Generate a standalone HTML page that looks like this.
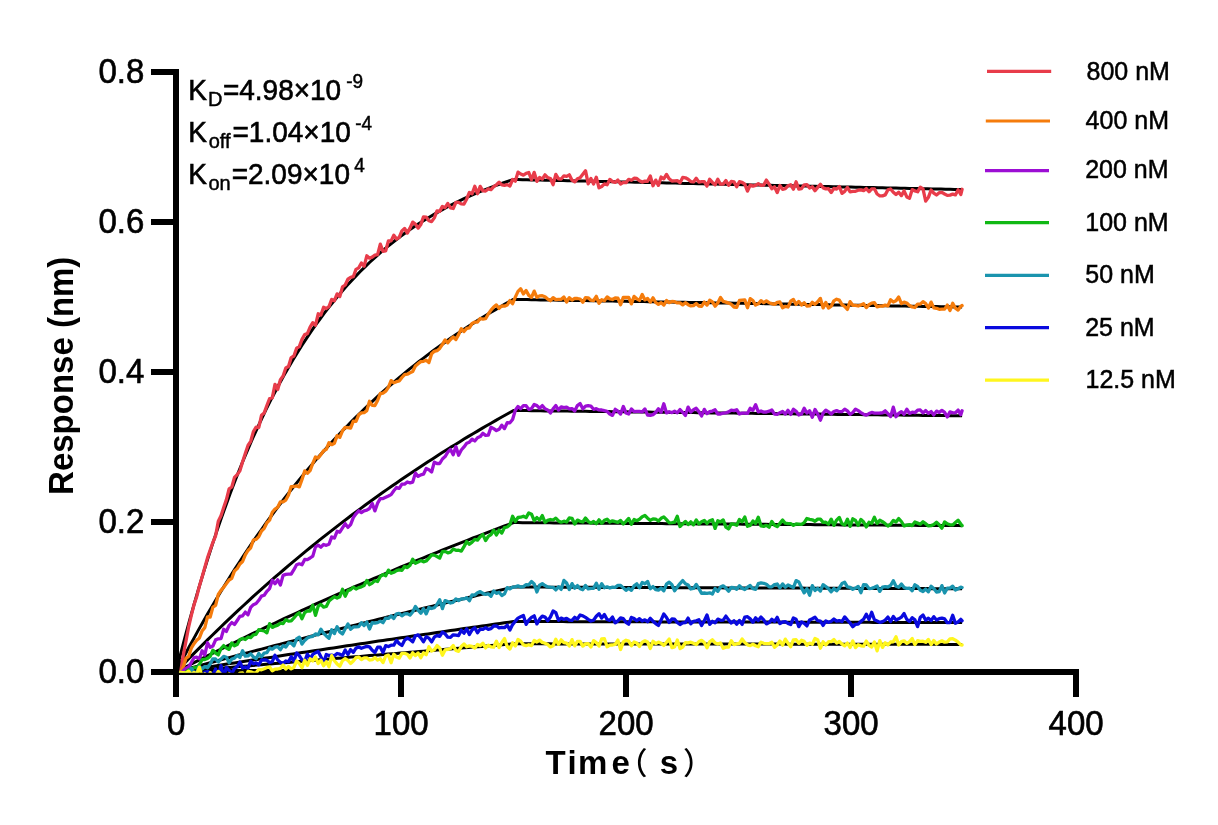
<!DOCTYPE html>
<html lang="en"><head><meta charset="utf-8"><title>Sensorgram</title>
<style>
html,body{margin:0;padding:0;background:#fff;}
body{width:1218px;height:825px;overflow:hidden;}
svg{display:block;}
text{font-family:"Liberation Sans","Noto Sans CJK SC",sans-serif;fill:#000;}
.tick{font-size:33px;stroke:#000;stroke-width:.6px;}
.ttl{font-size:33px;font-weight:bold;}
.ann{font-size:28px;stroke:#000;stroke-width:.6px;}
.sb{font-size:20px;stroke-width:.45px;}
.sp{font-size:19px;stroke-width:.45px;}
.lg{font-size:25px;stroke:#000;stroke-width:.5px;}
.cjk{font-family:"Liberation Sans","Noto Sans CJK SC",sans-serif;font-weight:500;font-size:30px;}
</style></head><body>
<svg width="1218" height="825" viewBox="0 0 1218 825">
<rect x="0" y="0" width="1218" height="825" fill="#ffffff"/>
<g fill="#000" stroke="none">
<rect x="173" y="69" width="6" height="628"/>
<rect x="151" y="669" width="928" height="6"/>
<rect x="151" y="519" width="25" height="6"/>
<rect x="151" y="369" width="25" height="6"/>
<rect x="151" y="219" width="25" height="6"/>
<rect x="151" y="69" width="25" height="6"/>
<rect x="398" y="672" width="6" height="25"/>
<rect x="623" y="672" width="6" height="25"/>
<rect x="848" y="672" width="6" height="25"/>
<rect x="1073" y="672" width="6" height="25"/>
</g>
<clipPath id="plot"><rect x="178.8" y="40" width="830" height="632.7"/></clipPath>
<g clip-path="url(#plot)">
<g fill="none" stroke="#000" stroke-width="3" stroke-linejoin="round" stroke-linecap="butt">
<path d="M176.0,672.0 L180.5,654.3 L185.0,637.2 L189.5,620.6 L194.0,604.6 L198.5,589.1 L203.0,574.1 L207.5,559.6 L212.0,545.6 L216.5,532.1 L221.0,519.0 L225.5,506.4 L230.0,494.1 L234.5,482.3 L239.0,470.8 L243.5,459.8 L248.0,449.1 L252.5,438.7 L257.0,428.8 L261.5,419.1 L266.0,409.7 L270.5,400.7 L275.0,392.0 L279.5,383.5 L284.0,375.3 L288.5,367.4 L293.0,359.8 L297.5,352.4 L302.0,345.3 L306.5,338.4 L311.0,331.7 L315.5,325.2 L320.0,319.0 L324.5,312.9 L329.0,307.1 L333.5,301.5 L338.0,296.0 L342.5,290.7 L347.0,285.6 L351.5,280.7 L356.0,275.9 L360.5,271.3 L365.0,266.9 L369.5,262.5 L374.0,258.4 L378.5,254.3 L383.0,250.4 L387.5,246.7 L392.0,243.0 L396.5,239.5 L401.0,236.1 L405.5,232.8 L410.0,229.6 L414.5,226.5 L419.0,223.6 L423.5,220.7 L428.0,217.9 L432.5,215.2 L437.0,212.6 L441.5,210.1 L446.0,207.7 L450.5,205.3 L455.0,203.0 L459.5,200.8 L464.0,198.7 L468.5,196.6 L473.0,194.7 L477.5,192.7 L482.0,190.9 L486.5,189.1 L491.0,187.3 L495.5,185.7 L500.0,184.0 L504.5,182.5 L509.0,180.9 L513.5,179.5 L518.0,179.6 L522.5,179.7 L527.0,179.8 L531.5,179.9 L536.0,180.0 L540.5,180.1 L545.0,180.2 L549.5,180.3 L554.0,180.4 L558.5,180.5 L563.0,180.6 L567.5,180.7 L572.0,180.8 L576.5,180.9 L581.0,181.0 L585.5,181.1 L590.0,181.2 L594.5,181.3 L599.0,181.4 L603.5,181.5 L608.0,181.6 L612.5,181.7 L617.0,181.8 L621.5,181.9 L626.0,182.0 L630.5,182.1 L635.0,182.2 L639.5,182.3 L644.0,182.4 L648.5,182.5 L653.0,182.6 L657.5,182.7 L662.0,182.8 L666.5,182.9 L671.0,183.0 L675.5,183.1 L680.0,183.3 L684.5,183.4 L689.0,183.5 L693.5,183.6 L698.0,183.7 L702.5,183.8 L707.0,183.9 L711.5,184.0 L716.0,184.1 L720.5,184.2 L725.0,184.3 L729.5,184.4 L734.0,184.5 L738.5,184.6 L743.0,184.7 L747.5,184.8 L752.0,184.9 L756.5,185.0 L761.0,185.1 L765.5,185.2 L770.0,185.3 L774.5,185.4 L779.0,185.5 L783.5,185.6 L788.0,185.7 L792.5,185.8 L797.0,185.9 L801.5,186.0 L806.0,186.1 L810.5,186.2 L815.0,186.3 L819.5,186.4 L824.0,186.5 L828.5,186.6 L833.0,186.7 L837.5,186.8 L842.0,186.9 L846.5,187.0 L851.0,187.1 L855.5,187.2 L860.0,187.3 L864.5,187.4 L869.0,187.5 L873.5,187.6 L878.0,187.7 L882.5,187.8 L887.0,187.9 L891.5,188.0 L896.0,188.1 L900.5,188.2 L905.0,188.3 L909.5,188.4 L914.0,188.5 L918.5,188.6 L923.0,188.7 L927.5,188.8 L932.0,188.9 L936.5,189.0 L941.0,189.1 L945.5,189.2 L950.0,189.3 L954.5,189.4 L959.0,189.5 L962.1,189.6"/>
<path d="M176.0,672.0 L180.5,663.3 L185.0,654.8 L189.5,646.3 L194.0,638.1 L198.5,629.9 L203.0,622.0 L207.5,614.1 L212.0,606.4 L216.5,598.8 L221.0,591.3 L225.5,584.0 L230.0,576.7 L234.5,569.6 L239.0,562.7 L243.5,555.8 L248.0,549.1 L252.5,542.4 L257.0,535.9 L261.5,529.5 L266.0,523.2 L270.5,517.0 L275.0,510.9 L279.5,504.9 L284.0,499.0 L288.5,493.2 L293.0,487.5 L297.5,481.9 L302.0,476.4 L306.5,471.0 L311.0,465.7 L315.5,460.4 L320.0,455.3 L324.5,450.2 L329.0,445.2 L333.5,440.4 L338.0,435.5 L342.5,430.8 L347.0,426.2 L351.5,421.6 L356.0,417.1 L360.5,412.7 L365.0,408.3 L369.5,404.1 L374.0,399.9 L378.5,395.7 L383.0,391.7 L387.5,387.7 L392.0,383.8 L396.5,379.9 L401.0,376.1 L405.5,372.4 L410.0,368.7 L414.5,365.1 L419.0,361.5 L423.5,358.1 L428.0,354.6 L432.5,351.3 L437.0,347.9 L441.5,344.7 L446.0,341.5 L450.5,338.3 L455.0,335.2 L459.5,332.2 L464.0,329.2 L468.5,326.3 L473.0,323.4 L477.5,320.5 L482.0,317.7 L486.5,315.0 L491.0,312.3 L495.5,309.6 L500.0,307.0 L504.5,304.4 L509.0,301.9 L513.5,299.4 L518.0,299.5 L522.5,299.6 L527.0,299.6 L531.5,299.7 L536.0,299.8 L540.5,299.9 L545.0,299.9 L549.5,300.0 L554.0,300.1 L558.5,300.2 L563.0,300.3 L567.5,300.3 L572.0,300.4 L576.5,300.5 L581.0,300.6 L585.5,300.6 L590.0,300.7 L594.5,300.8 L599.0,300.9 L603.5,300.9 L608.0,301.0 L612.5,301.1 L617.0,301.2 L621.5,301.3 L626.0,301.3 L630.5,301.4 L635.0,301.5 L639.5,301.6 L644.0,301.6 L648.5,301.7 L653.0,301.8 L657.5,301.9 L662.0,301.9 L666.5,302.0 L671.0,302.1 L675.5,302.2 L680.0,302.3 L684.5,302.3 L689.0,302.4 L693.5,302.5 L698.0,302.6 L702.5,302.6 L707.0,302.7 L711.5,302.8 L716.0,302.9 L720.5,302.9 L725.0,303.0 L729.5,303.1 L734.0,303.2 L738.5,303.3 L743.0,303.3 L747.5,303.4 L752.0,303.5 L756.5,303.6 L761.0,303.6 L765.5,303.7 L770.0,303.8 L774.5,303.9 L779.0,303.9 L783.5,304.0 L788.0,304.1 L792.5,304.2 L797.0,304.3 L801.5,304.3 L806.0,304.4 L810.5,304.5 L815.0,304.6 L819.5,304.6 L824.0,304.7 L828.5,304.8 L833.0,304.9 L837.5,304.9 L842.0,305.0 L846.5,305.1 L851.0,305.2 L855.5,305.2 L860.0,305.3 L864.5,305.4 L869.0,305.5 L873.5,305.5 L878.0,305.6 L882.5,305.7 L887.0,305.8 L891.5,305.9 L896.0,305.9 L900.5,306.0 L905.0,306.1 L909.5,306.2 L914.0,306.2 L918.5,306.3 L923.0,306.4 L927.5,306.5 L932.0,306.5 L936.5,306.6 L941.0,306.7 L945.5,306.8 L950.0,306.8 L954.5,306.9 L959.0,307.0 L962.1,307.0"/>
<path d="M176.0,672.0 L180.5,667.3 L185.0,662.6 L189.5,658.0 L194.0,653.4 L198.5,648.9 L203.0,644.4 L207.5,639.9 L212.0,635.5 L216.5,631.1 L221.0,626.7 L225.5,622.4 L230.0,618.1 L234.5,613.9 L239.0,609.6 L243.5,605.5 L248.0,601.3 L252.5,597.2 L257.0,593.2 L261.5,589.1 L266.0,585.1 L270.5,581.2 L275.0,577.2 L279.5,573.3 L284.0,569.5 L288.5,565.6 L293.0,561.8 L297.5,558.1 L302.0,554.3 L306.5,550.6 L311.0,547.0 L315.5,543.3 L320.0,539.7 L324.5,536.1 L329.0,532.6 L333.5,529.1 L338.0,525.6 L342.5,522.1 L347.0,518.7 L351.5,515.3 L356.0,511.9 L360.5,508.6 L365.0,505.3 L369.5,502.0 L374.0,498.7 L378.5,495.5 L383.0,492.3 L387.5,489.1 L392.0,486.0 L396.5,482.9 L401.0,479.8 L405.5,476.7 L410.0,473.7 L414.5,470.7 L419.0,467.7 L423.5,464.7 L428.0,461.8 L432.5,458.9 L437.0,456.0 L441.5,453.1 L446.0,450.3 L450.5,447.4 L455.0,444.7 L459.5,441.9 L464.0,439.1 L468.5,436.4 L473.0,433.7 L477.5,431.1 L482.0,428.4 L486.5,425.8 L491.0,423.2 L495.5,420.6 L500.0,418.0 L504.5,415.5 L509.0,413.0 L513.5,410.5 L518.0,410.5 L522.5,410.6 L527.0,410.6 L531.5,410.7 L536.0,410.7 L540.5,410.8 L545.0,410.9 L549.5,410.9 L554.0,411.0 L558.5,411.0 L563.0,411.1 L567.5,411.1 L572.0,411.2 L576.5,411.2 L581.0,411.3 L585.5,411.3 L590.0,411.4 L594.5,411.5 L599.0,411.5 L603.5,411.6 L608.0,411.6 L612.5,411.7 L617.0,411.7 L621.5,411.8 L626.0,411.8 L630.5,411.9 L635.0,411.9 L639.5,412.0 L644.0,412.0 L648.5,412.1 L653.0,412.2 L657.5,412.2 L662.0,412.3 L666.5,412.3 L671.0,412.4 L675.5,412.4 L680.0,412.5 L684.5,412.5 L689.0,412.6 L693.5,412.6 L698.0,412.7 L702.5,412.7 L707.0,412.8 L711.5,412.9 L716.0,412.9 L720.5,413.0 L725.0,413.0 L729.5,413.1 L734.0,413.1 L738.5,413.2 L743.0,413.2 L747.5,413.3 L752.0,413.3 L756.5,413.4 L761.0,413.4 L765.5,413.5 L770.0,413.6 L774.5,413.6 L779.0,413.7 L783.5,413.7 L788.0,413.8 L792.5,413.8 L797.0,413.9 L801.5,413.9 L806.0,414.0 L810.5,414.0 L815.0,414.1 L819.5,414.1 L824.0,414.2 L828.5,414.3 L833.0,414.3 L837.5,414.4 L842.0,414.4 L846.5,414.5 L851.0,414.5 L855.5,414.6 L860.0,414.6 L864.5,414.7 L869.0,414.7 L873.5,414.8 L878.0,414.8 L882.5,414.9 L887.0,415.0 L891.5,415.0 L896.0,415.1 L900.5,415.1 L905.0,415.2 L909.5,415.2 L914.0,415.3 L918.5,415.3 L923.0,415.4 L927.5,415.4 L932.0,415.5 L936.5,415.5 L941.0,415.6 L945.5,415.6 L950.0,415.7 L954.5,415.8 L959.0,415.8 L962.1,415.8"/>
<path d="M176.0,672.0 L180.5,669.7 L185.0,667.3 L189.5,665.0 L194.0,662.7 L198.5,660.4 L203.0,658.2 L207.5,655.9 L212.0,653.6 L216.5,651.4 L221.0,649.1 L225.5,646.9 L230.0,644.7 L234.5,642.5 L239.0,640.3 L243.5,638.1 L248.0,635.9 L252.5,633.7 L257.0,631.5 L261.5,629.4 L266.0,627.2 L270.5,625.1 L275.0,623.0 L279.5,620.9 L284.0,618.7 L288.5,616.6 L293.0,614.6 L297.5,612.5 L302.0,610.4 L306.5,608.3 L311.0,606.3 L315.5,604.2 L320.0,602.2 L324.5,600.2 L329.0,598.2 L333.5,596.2 L338.0,594.2 L342.5,592.2 L347.0,590.2 L351.5,588.2 L356.0,586.2 L360.5,584.3 L365.0,582.3 L369.5,580.4 L374.0,578.5 L378.5,576.5 L383.0,574.6 L387.5,572.7 L392.0,570.8 L396.5,568.9 L401.0,567.0 L405.5,565.2 L410.0,563.3 L414.5,561.5 L419.0,559.6 L423.5,557.8 L428.0,555.9 L432.5,554.1 L437.0,552.3 L441.5,550.5 L446.0,548.7 L450.5,546.9 L455.0,545.1 L459.5,543.3 L464.0,541.6 L468.5,539.8 L473.0,538.0 L477.5,536.3 L482.0,534.6 L486.5,532.8 L491.0,531.1 L495.5,529.4 L500.0,527.7 L504.5,526.0 L509.0,524.3 L513.5,522.6 L518.0,522.6 L522.5,522.7 L527.0,522.7 L531.5,522.7 L536.0,522.8 L540.5,522.8 L545.0,522.8 L549.5,522.8 L554.0,522.9 L558.5,522.9 L563.0,522.9 L567.5,523.0 L572.0,523.0 L576.5,523.0 L581.0,523.1 L585.5,523.1 L590.0,523.1 L594.5,523.2 L599.0,523.2 L603.5,523.2 L608.0,523.3 L612.5,523.3 L617.0,523.3 L621.5,523.3 L626.0,523.4 L630.5,523.4 L635.0,523.4 L639.5,523.5 L644.0,523.5 L648.5,523.5 L653.0,523.6 L657.5,523.6 L662.0,523.6 L666.5,523.7 L671.0,523.7 L675.5,523.7 L680.0,523.7 L684.5,523.8 L689.0,523.8 L693.5,523.8 L698.0,523.9 L702.5,523.9 L707.0,523.9 L711.5,524.0 L716.0,524.0 L720.5,524.0 L725.0,524.1 L729.5,524.1 L734.0,524.1 L738.5,524.1 L743.0,524.2 L747.5,524.2 L752.0,524.2 L756.5,524.3 L761.0,524.3 L765.5,524.3 L770.0,524.4 L774.5,524.4 L779.0,524.4 L783.5,524.5 L788.0,524.5 L792.5,524.5 L797.0,524.5 L801.5,524.6 L806.0,524.6 L810.5,524.6 L815.0,524.7 L819.5,524.7 L824.0,524.7 L828.5,524.8 L833.0,524.8 L837.5,524.8 L842.0,524.9 L846.5,524.9 L851.0,524.9 L855.5,524.9 L860.0,525.0 L864.5,525.0 L869.0,525.0 L873.5,525.1 L878.0,525.1 L882.5,525.1 L887.0,525.2 L891.5,525.2 L896.0,525.2 L900.5,525.2 L905.0,525.3 L909.5,525.3 L914.0,525.3 L918.5,525.4 L923.0,525.4 L927.5,525.4 L932.0,525.5 L936.5,525.5 L941.0,525.5 L945.5,525.6 L950.0,525.6 L954.5,525.6 L959.0,525.6 L962.1,525.7"/>
<path d="M176.0,672.0 L180.5,670.8 L185.0,669.5 L189.5,668.3 L194.0,667.1 L198.5,665.9 L203.0,664.7 L207.5,663.4 L212.0,662.2 L216.5,661.0 L221.0,659.8 L225.5,658.6 L230.0,657.4 L234.5,656.2 L239.0,655.0 L243.5,653.8 L248.0,652.6 L252.5,651.4 L257.0,650.3 L261.5,649.1 L266.0,647.9 L270.5,646.7 L275.0,645.5 L279.5,644.4 L284.0,643.2 L288.5,642.0 L293.0,640.9 L297.5,639.7 L302.0,638.6 L306.5,637.4 L311.0,636.2 L315.5,635.1 L320.0,633.9 L324.5,632.8 L329.0,631.7 L333.5,630.5 L338.0,629.4 L342.5,628.2 L347.0,627.1 L351.5,626.0 L356.0,624.9 L360.5,623.7 L365.0,622.6 L369.5,621.5 L374.0,620.4 L378.5,619.3 L383.0,618.2 L387.5,617.0 L392.0,615.9 L396.5,614.8 L401.0,613.7 L405.5,612.6 L410.0,611.5 L414.5,610.5 L419.0,609.4 L423.5,608.3 L428.0,607.2 L432.5,606.1 L437.0,605.0 L441.5,603.9 L446.0,602.9 L450.5,601.8 L455.0,600.7 L459.5,599.7 L464.0,598.6 L468.5,597.5 L473.0,596.5 L477.5,595.4 L482.0,594.4 L486.5,593.3 L491.0,592.2 L495.5,591.2 L500.0,590.2 L504.5,589.1 L509.0,588.1 L513.5,587.0 L518.0,587.0 L522.5,587.1 L527.0,587.1 L531.5,587.1 L536.0,587.1 L540.5,587.1 L545.0,587.1 L549.5,587.2 L554.0,587.2 L558.5,587.2 L563.0,587.2 L567.5,587.2 L572.0,587.3 L576.5,587.3 L581.0,587.3 L585.5,587.3 L590.0,587.3 L594.5,587.3 L599.0,587.4 L603.5,587.4 L608.0,587.4 L612.5,587.4 L617.0,587.4 L621.5,587.4 L626.0,587.5 L630.5,587.5 L635.0,587.5 L639.5,587.5 L644.0,587.5 L648.5,587.6 L653.0,587.6 L657.5,587.6 L662.0,587.6 L666.5,587.6 L671.0,587.6 L675.5,587.7 L680.0,587.7 L684.5,587.7 L689.0,587.7 L693.5,587.7 L698.0,587.7 L702.5,587.8 L707.0,587.8 L711.5,587.8 L716.0,587.8 L720.5,587.8 L725.0,587.9 L729.5,587.9 L734.0,587.9 L738.5,587.9 L743.0,587.9 L747.5,587.9 L752.0,588.0 L756.5,588.0 L761.0,588.0 L765.5,588.0 L770.0,588.0 L774.5,588.0 L779.0,588.1 L783.5,588.1 L788.0,588.1 L792.5,588.1 L797.0,588.1 L801.5,588.1 L806.0,588.2 L810.5,588.2 L815.0,588.2 L819.5,588.2 L824.0,588.2 L828.5,588.3 L833.0,588.3 L837.5,588.3 L842.0,588.3 L846.5,588.3 L851.0,588.3 L855.5,588.4 L860.0,588.4 L864.5,588.4 L869.0,588.4 L873.5,588.4 L878.0,588.4 L882.5,588.5 L887.0,588.5 L891.5,588.5 L896.0,588.5 L900.5,588.5 L905.0,588.5 L909.5,588.6 L914.0,588.6 L918.5,588.6 L923.0,588.6 L927.5,588.6 L932.0,588.7 L936.5,588.7 L941.0,588.7 L945.5,588.7 L950.0,588.7 L954.5,588.7 L959.0,588.8 L962.1,588.8"/>
<path d="M176.0,672.0 L180.5,671.3 L185.0,670.6 L189.5,669.9 L194.0,669.2 L198.5,668.5 L203.0,667.8 L207.5,667.1 L212.0,666.4 L216.5,665.7 L221.0,665.0 L225.5,664.3 L230.0,663.6 L234.5,662.9 L239.0,662.2 L243.5,661.5 L248.0,660.8 L252.5,660.1 L257.0,659.4 L261.5,658.8 L266.0,658.1 L270.5,657.4 L275.0,656.7 L279.5,656.0 L284.0,655.3 L288.5,654.6 L293.0,654.0 L297.5,653.3 L302.0,652.6 L306.5,651.9 L311.0,651.2 L315.5,650.6 L320.0,649.9 L324.5,649.2 L329.0,648.5 L333.5,647.9 L338.0,647.2 L342.5,646.5 L347.0,645.8 L351.5,645.2 L356.0,644.5 L360.5,643.8 L365.0,643.2 L369.5,642.5 L374.0,641.8 L378.5,641.1 L383.0,640.5 L387.5,639.8 L392.0,639.2 L396.5,638.5 L401.0,637.8 L405.5,637.2 L410.0,636.5 L414.5,635.8 L419.0,635.2 L423.5,634.5 L428.0,633.9 L432.5,633.2 L437.0,632.6 L441.5,631.9 L446.0,631.2 L450.5,630.6 L455.0,629.9 L459.5,629.3 L464.0,628.6 L468.5,628.0 L473.0,627.3 L477.5,626.7 L482.0,626.0 L486.5,625.4 L491.0,624.7 L495.5,624.1 L500.0,623.5 L504.5,622.8 L509.0,622.2 L513.5,621.5 L518.0,621.5 L522.5,621.5 L527.0,621.6 L531.5,621.6 L536.0,621.6 L540.5,621.6 L545.0,621.6 L549.5,621.6 L554.0,621.6 L558.5,621.6 L563.0,621.6 L567.5,621.7 L572.0,621.7 L576.5,621.7 L581.0,621.7 L585.5,621.7 L590.0,621.7 L594.5,621.7 L599.0,621.7 L603.5,621.7 L608.0,621.7 L612.5,621.8 L617.0,621.8 L621.5,621.8 L626.0,621.8 L630.5,621.8 L635.0,621.8 L639.5,621.8 L644.0,621.8 L648.5,621.8 L653.0,621.8 L657.5,621.9 L662.0,621.9 L666.5,621.9 L671.0,621.9 L675.5,621.9 L680.0,621.9 L684.5,621.9 L689.0,621.9 L693.5,621.9 L698.0,622.0 L702.5,622.0 L707.0,622.0 L711.5,622.0 L716.0,622.0 L720.5,622.0 L725.0,622.0 L729.5,622.0 L734.0,622.0 L738.5,622.0 L743.0,622.1 L747.5,622.1 L752.0,622.1 L756.5,622.1 L761.0,622.1 L765.5,622.1 L770.0,622.1 L774.5,622.1 L779.0,622.1 L783.5,622.2 L788.0,622.2 L792.5,622.2 L797.0,622.2 L801.5,622.2 L806.0,622.2 L810.5,622.2 L815.0,622.2 L819.5,622.2 L824.0,622.2 L828.5,622.3 L833.0,622.3 L837.5,622.3 L842.0,622.3 L846.5,622.3 L851.0,622.3 L855.5,622.3 L860.0,622.3 L864.5,622.3 L869.0,622.3 L873.5,622.4 L878.0,622.4 L882.5,622.4 L887.0,622.4 L891.5,622.4 L896.0,622.4 L900.5,622.4 L905.0,622.4 L909.5,622.4 L914.0,622.5 L918.5,622.5 L923.0,622.5 L927.5,622.5 L932.0,622.5 L936.5,622.5 L941.0,622.5 L945.5,622.5 L950.0,622.5 L954.5,622.5 L959.0,622.6 L962.1,622.6"/>
<path d="M176.0,672.0 L180.5,671.6 L185.0,671.2 L189.5,670.8 L194.0,670.5 L198.5,670.1 L203.0,669.7 L207.5,669.3 L212.0,668.9 L216.5,668.5 L221.0,668.2 L225.5,667.8 L230.0,667.4 L234.5,667.0 L239.0,666.6 L243.5,666.2 L248.0,665.9 L252.5,665.5 L257.0,665.1 L261.5,664.7 L266.0,664.3 L270.5,663.9 L275.0,663.6 L279.5,663.2 L284.0,662.8 L288.5,662.4 L293.0,662.0 L297.5,661.7 L302.0,661.3 L306.5,660.9 L311.0,660.5 L315.5,660.2 L320.0,659.8 L324.5,659.4 L329.0,659.0 L333.5,658.6 L338.0,658.3 L342.5,657.9 L347.0,657.5 L351.5,657.1 L356.0,656.8 L360.5,656.4 L365.0,656.0 L369.5,655.6 L374.0,655.3 L378.5,654.9 L383.0,654.5 L387.5,654.1 L392.0,653.8 L396.5,653.4 L401.0,653.0 L405.5,652.7 L410.0,652.3 L414.5,651.9 L419.0,651.5 L423.5,651.2 L428.0,650.8 L432.5,650.4 L437.0,650.1 L441.5,649.7 L446.0,649.3 L450.5,648.9 L455.0,648.6 L459.5,648.2 L464.0,647.8 L468.5,647.5 L473.0,647.1 L477.5,646.7 L482.0,646.4 L486.5,646.0 L491.0,645.6 L495.5,645.3 L500.0,644.9 L504.5,644.5 L509.0,644.2 L513.5,643.8 L518.0,643.8 L522.5,643.8 L527.0,643.8 L531.5,643.8 L536.0,643.8 L540.5,643.8 L545.0,643.8 L549.5,643.8 L554.0,643.9 L558.5,643.9 L563.0,643.9 L567.5,643.9 L572.0,643.9 L576.5,643.9 L581.0,643.9 L585.5,643.9 L590.0,643.9 L594.5,643.9 L599.0,643.9 L603.5,643.9 L608.0,643.9 L612.5,643.9 L617.0,643.9 L621.5,643.9 L626.0,643.9 L630.5,644.0 L635.0,644.0 L639.5,644.0 L644.0,644.0 L648.5,644.0 L653.0,644.0 L657.5,644.0 L662.0,644.0 L666.5,644.0 L671.0,644.0 L675.5,644.0 L680.0,644.0 L684.5,644.0 L689.0,644.0 L693.5,644.0 L698.0,644.0 L702.5,644.0 L707.0,644.1 L711.5,644.1 L716.0,644.1 L720.5,644.1 L725.0,644.1 L729.5,644.1 L734.0,644.1 L738.5,644.1 L743.0,644.1 L747.5,644.1 L752.0,644.1 L756.5,644.1 L761.0,644.1 L765.5,644.1 L770.0,644.1 L774.5,644.1 L779.0,644.1 L783.5,644.1 L788.0,644.2 L792.5,644.2 L797.0,644.2 L801.5,644.2 L806.0,644.2 L810.5,644.2 L815.0,644.2 L819.5,644.2 L824.0,644.2 L828.5,644.2 L833.0,644.2 L837.5,644.2 L842.0,644.2 L846.5,644.2 L851.0,644.2 L855.5,644.2 L860.0,644.2 L864.5,644.3 L869.0,644.3 L873.5,644.3 L878.0,644.3 L882.5,644.3 L887.0,644.3 L891.5,644.3 L896.0,644.3 L900.5,644.3 L905.0,644.3 L909.5,644.3 L914.0,644.3 L918.5,644.3 L923.0,644.3 L927.5,644.3 L932.0,644.3 L936.5,644.3 L941.0,644.4 L945.5,644.4 L950.0,644.4 L954.5,644.4 L959.0,644.4 L962.1,644.4"/>
</g>
<g fill="none" stroke-width="3.3" stroke-linejoin="round" stroke-linecap="round">
<path stroke="#E83C4A" d="M180.5,673.3 L183.2,655.8 L185.9,641.5 L188.6,627.2 L191.3,615.5 L194.0,604.8 L196.7,596.7 L199.4,586.1 L202.1,577.0 L204.8,567.5 L207.5,557.9 L210.2,550.0 L212.9,542.3 L215.6,535.8 L218.3,521.2 L221.0,515.8 L223.7,507.5 L226.4,499.6 L229.1,488.9 L231.8,487.0 L234.5,477.4 L237.2,474.6 L239.9,470.9 L242.6,461.7 L245.3,453.4 L248.0,445.5 L250.7,441.3 L253.4,431.6 L256.1,427.2 L258.8,427.5 L261.5,415.3 L264.2,412.9 L266.9,405.5 L269.6,398.5 L272.3,397.9 L275.0,384.3 L277.7,389.5 L280.4,379.7 L283.1,376.1 L285.8,368.0 L288.5,366.5 L291.2,357.6 L293.9,356.0 L296.6,348.2 L299.3,346.6 L302.0,339.4 L304.7,334.6 L307.4,333.6 L310.1,327.2 L312.8,322.7 L315.5,325.2 L318.2,313.8 L320.9,315.0 L323.6,307.2 L326.3,308.5 L329.0,306.5 L331.7,299.4 L334.4,300.7 L337.1,293.9 L339.8,296.5 L342.5,286.9 L345.2,285.0 L347.9,279.2 L350.6,277.4 L353.3,276.7 L356.0,269.4 L358.7,267.9 L361.4,263.0 L364.1,266.3 L366.8,255.8 L369.5,258.2 L372.2,257.1 L374.9,255.2 L377.6,254.6 L380.3,244.2 L383.0,251.3 L385.7,250.8 L388.4,240.9 L391.1,240.9 L393.8,235.3 L396.5,239.0 L399.2,237.4 L401.9,230.9 L404.6,228.4 L407.3,233.1 L410.0,228.1 L412.7,222.1 L415.4,224.1 L418.1,228.2 L420.8,224.6 L423.5,216.8 L426.2,217.1 L428.9,220.7 L431.6,221.6 L434.3,217.9 L437.0,210.8 L439.7,211.4 L442.4,206.4 L445.1,207.7 L447.8,203.5 L450.5,207.9 L453.2,208.5 L455.9,202.3 L458.6,202.3 L461.3,203.9 L464.0,204.1 L466.7,198.9 L469.4,192.5 L472.1,193.8 L474.8,186.3 L477.5,193.8 L480.2,186.4 L482.9,190.8 L485.6,191.0 L488.3,188.9 L491.0,189.7 L493.7,186.6 L496.4,184.8 L499.1,182.3 L501.8,184.9 L504.5,185.3 L507.2,184.6 L509.9,186.0 L512.6,179.5 L515.3,181.2 L518.0,172.1 L520.7,174.0 L523.4,175.1 L526.1,173.3 L528.8,172.5 L531.5,179.8 L534.2,172.4 L536.9,181.3 L539.6,177.5 L542.3,179.1 L545.0,174.8 L547.7,177.7 L550.4,178.5 L553.1,184.7 L555.8,174.4 L558.5,178.9 L561.2,179.0 L563.9,175.9 L566.6,176.4 L569.3,174.8 L572.0,180.2 L574.7,181.9 L577.4,178.8 L580.1,177.8 L582.8,174.3 L585.5,170.7 L588.2,183.8 L590.9,178.5 L593.6,184.0 L596.3,177.2 L599.0,187.8 L601.7,186.5 L604.4,183.9 L607.1,184.8 L609.8,179.4 L612.5,181.6 L615.2,182.4 L617.9,180.1 L620.6,184.0 L623.3,182.3 L626.0,182.6 L628.7,179.3 L631.4,180.3 L634.1,178.2 L636.8,178.5 L639.5,180.8 L642.2,182.1 L644.9,181.1 L647.6,181.3 L650.3,176.0 L653.0,185.7 L655.7,180.1 L658.4,185.4 L661.1,177.0 L663.8,178.8 L666.5,174.4 L669.2,178.8 L671.9,181.0 L674.6,180.9 L677.3,180.7 L680.0,182.7 L682.7,177.4 L685.4,177.8 L688.1,179.3 L690.8,181.6 L693.5,181.9 L696.2,178.3 L698.9,182.1 L701.6,181.7 L704.3,181.7 L707.0,186.0 L709.7,179.2 L712.4,182.4 L715.1,184.8 L717.8,179.2 L720.5,184.2 L723.2,184.0 L725.9,180.6 L728.6,185.3 L731.3,181.4 L734.0,181.9 L736.7,186.8 L739.4,181.7 L742.1,182.3 L744.8,184.2 L747.5,191.1 L750.2,185.1 L752.9,186.1 L755.6,185.3 L758.3,183.7 L761.0,185.3 L763.7,185.1 L766.4,180.1 L769.1,184.1 L771.8,188.8 L774.5,186.7 L777.2,192.6 L779.9,185.5 L782.6,189.4 L785.3,188.7 L788.0,185.8 L790.7,184.8 L793.4,189.2 L796.1,181.8 L798.8,189.2 L801.5,188.6 L804.2,184.8 L806.9,184.6 L809.6,188.0 L812.3,186.8 L815.0,190.7 L817.7,187.4 L820.4,184.2 L823.1,187.9 L825.8,188.9 L828.5,188.7 L831.2,192.5 L833.9,188.3 L836.6,189.1 L839.3,186.4 L842.0,193.4 L844.7,191.4 L847.4,187.4 L850.1,191.8 L852.8,191.4 L855.5,191.3 L858.2,190.2 L860.9,189.9 L863.6,190.7 L866.3,188.6 L869.0,191.8 L871.7,188.9 L874.4,188.8 L877.1,194.0 L879.8,195.8 L882.5,195.9 L885.2,194.9 L887.9,189.9 L890.6,189.0 L893.3,192.2 L896.0,194.6 L898.7,192.2 L901.4,195.6 L904.1,190.9 L906.8,196.9 L909.5,198.2 L912.2,189.6 L914.9,190.9 L917.6,191.8 L920.3,187.2 L923.0,188.9 L925.7,201.1 L928.4,197.4 L931.1,190.0 L933.8,193.1 L936.5,195.0 L939.2,192.7 L941.9,192.4 L944.6,194.0 L947.3,195.4 L950.0,195.1 L952.7,194.1 L955.4,194.9 L958.1,189.8 L960.8,194.5 L962.1,189.3"/>
<path stroke="#F57C0C" d="M180.5,672.3 L183.2,666.9 L185.9,658.4 L188.6,656.5 L191.3,648.2 L194.0,643.7 L196.7,640.3 L199.4,637.9 L202.1,630.8 L204.8,627.7 L207.5,616.9 L210.2,617.0 L212.9,607.1 L215.6,605.4 L218.3,594.5 L221.0,590.3 L223.7,587.3 L226.4,583.6 L229.1,580.0 L231.8,578.3 L234.5,570.9 L237.2,568.6 L239.9,564.0 L242.6,561.5 L245.3,554.9 L248.0,550.5 L250.7,547.8 L253.4,540.0 L256.1,539.4 L258.8,536.6 L261.5,531.0 L264.2,528.3 L266.9,522.7 L269.6,520.1 L272.3,512.3 L275.0,509.1 L277.7,507.3 L280.4,501.8 L283.1,501.8 L285.8,500.1 L288.5,494.9 L291.2,486.6 L293.9,486.5 L296.6,485.9 L299.3,486.9 L302.0,479.4 L304.7,470.9 L307.4,473.2 L310.1,470.6 L312.8,463.3 L315.5,457.0 L318.2,458.1 L320.9,454.6 L323.6,450.7 L326.3,449.3 L329.0,442.7 L331.7,444.7 L334.4,443.3 L337.1,435.6 L339.8,437.3 L342.5,430.8 L345.2,427.3 L347.9,427.6 L350.6,428.1 L353.3,421.2 L356.0,421.4 L358.7,414.8 L361.4,412.9 L364.1,412.7 L366.8,410.6 L369.5,401.3 L372.2,405.4 L374.9,405.5 L377.6,400.4 L380.3,393.5 L383.0,393.2 L385.7,391.2 L388.4,387.4 L391.1,380.6 L393.8,382.8 L396.5,381.7 L399.2,381.0 L401.9,377.5 L404.6,374.6 L407.3,374.2 L410.0,372.8 L412.7,371.6 L415.4,366.1 L418.1,363.7 L420.8,361.7 L423.5,361.3 L426.2,360.2 L428.9,362.6 L431.6,353.8 L434.3,351.3 L437.0,350.7 L439.7,348.4 L442.4,344.3 L445.1,339.9 L447.8,342.8 L450.5,339.5 L453.2,336.9 L455.9,339.5 L458.6,334.6 L461.3,328.7 L464.0,331.5 L466.7,328.4 L469.4,327.8 L472.1,323.4 L474.8,322.1 L477.5,322.1 L480.2,318.5 L482.9,319.1 L485.6,318.7 L488.3,314.0 L491.0,310.1 L493.7,307.0 L496.4,304.9 L499.1,308.4 L501.8,305.9 L504.5,306.1 L507.2,305.0 L509.9,300.6 L512.6,303.7 L515.3,297.1 L518.0,291.4 L520.7,288.8 L523.4,293.9 L526.1,290.5 L528.8,295.4 L531.5,297.3 L534.2,291.1 L536.9,297.3 L539.6,295.9 L542.3,295.7 L545.0,296.7 L547.7,299.1 L550.4,300.7 L553.1,297.7 L555.8,299.7 L558.5,299.4 L561.2,299.3 L563.9,297.0 L566.6,302.0 L569.3,297.7 L572.0,300.1 L574.7,298.3 L577.4,298.5 L580.1,299.0 L582.8,302.3 L585.5,297.7 L588.2,297.8 L590.9,300.2 L593.6,300.5 L596.3,296.3 L599.0,303.4 L601.7,299.7 L604.4,300.7 L607.1,296.9 L609.8,298.9 L612.5,299.5 L615.2,297.9 L617.9,298.2 L620.6,304.8 L623.3,297.4 L626.0,297.5 L628.7,297.4 L631.4,303.9 L634.1,296.4 L636.8,298.8 L639.5,300.4 L642.2,294.4 L644.9,299.9 L647.6,298.4 L650.3,302.1 L653.0,297.8 L655.7,302.5 L658.4,304.4 L661.1,302.6 L663.8,305.1 L666.5,300.5 L669.2,302.6 L671.9,301.5 L674.6,301.7 L677.3,302.9 L680.0,302.9 L682.7,304.9 L685.4,302.7 L688.1,304.7 L690.8,305.9 L693.5,305.6 L696.2,303.5 L698.9,306.0 L701.6,306.3 L704.3,302.1 L707.0,305.1 L709.7,300.2 L712.4,301.9 L715.1,306.2 L717.8,302.9 L720.5,297.5 L723.2,301.4 L725.9,302.1 L728.6,303.1 L731.3,304.3 L734.0,307.0 L736.7,307.3 L739.4,300.5 L742.1,300.2 L744.8,299.9 L747.5,307.8 L750.2,298.6 L752.9,300.5 L755.6,305.1 L758.3,303.8 L761.0,300.7 L763.7,302.7 L766.4,300.9 L769.1,302.7 L771.8,303.6 L774.5,304.4 L777.2,302.4 L779.9,302.0 L782.6,307.7 L785.3,306.3 L788.0,307.0 L790.7,301.2 L793.4,299.5 L796.1,304.4 L798.8,301.4 L801.5,305.1 L804.2,302.8 L806.9,306.0 L809.6,305.9 L812.3,302.3 L815.0,304.3 L817.7,301.8 L820.4,298.4 L823.1,307.9 L825.8,302.5 L828.5,308.1 L831.2,306.2 L833.9,300.8 L836.6,299.2 L839.3,300.1 L842.0,304.6 L844.7,306.5 L847.4,309.4 L850.1,301.6 L852.8,305.3 L855.5,305.3 L858.2,306.0 L860.9,305.0 L863.6,303.8 L866.3,307.6 L869.0,304.6 L871.7,303.1 L874.4,302.6 L877.1,306.9 L879.8,306.1 L882.5,306.1 L885.2,305.1 L887.9,305.9 L890.6,299.7 L893.3,302.0 L896.0,300.8 L898.7,297.0 L901.4,303.6 L904.1,302.2 L906.8,303.0 L909.5,305.6 L912.2,306.9 L914.9,307.5 L917.6,304.1 L920.3,304.1 L923.0,301.6 L925.7,303.6 L928.4,308.0 L931.1,302.1 L933.8,307.9 L936.5,308.3 L939.2,309.3 L941.9,309.2 L944.6,309.2 L947.3,305.1 L950.0,310.5 L952.7,303.2 L955.4,308.2 L958.1,310.1 L960.8,306.3 L962.1,305.5"/>
<path stroke="#9C0ED4" d="M180.5,674.3 L183.2,670.7 L185.9,668.2 L188.6,667.0 L191.3,662.5 L194.0,657.7 L196.7,657.2 L199.4,658.8 L202.1,650.7 L204.8,655.0 L207.5,642.8 L210.2,647.4 L212.9,646.0 L215.6,639.9 L218.3,638.8 L221.0,638.6 L223.7,629.3 L226.4,631.4 L229.1,625.5 L231.8,622.5 L234.5,624.5 L237.2,620.5 L239.9,616.4 L242.6,615.8 L245.3,612.1 L248.0,614.8 L250.7,607.4 L253.4,604.7 L256.1,603.5 L258.8,600.3 L261.5,596.1 L264.2,595.2 L266.9,591.3 L269.6,588.6 L272.3,580.3 L275.0,583.8 L277.7,579.8 L280.4,585.1 L283.1,575.4 L285.8,574.4 L288.5,574.1 L291.2,574.0 L293.9,569.7 L296.6,564.8 L299.3,563.8 L302.0,564.8 L304.7,559.5 L307.4,559.6 L310.1,558.0 L312.8,556.1 L315.5,546.9 L318.2,545.1 L320.9,547.2 L323.6,544.5 L326.3,545.3 L329.0,544.3 L331.7,536.9 L334.4,538.1 L337.1,531.3 L339.8,532.2 L342.5,527.9 L345.2,523.6 L347.9,527.4 L350.6,524.7 L353.3,517.6 L356.0,513.8 L358.7,510.8 L361.4,512.5 L364.1,510.8 L366.8,510.2 L369.5,508.5 L372.2,503.4 L374.9,510.9 L377.6,503.2 L380.3,498.7 L383.0,498.6 L385.7,497.3 L388.4,496.0 L391.1,494.6 L393.8,490.7 L396.5,487.5 L399.2,488.4 L401.9,484.1 L404.6,484.1 L407.3,482.0 L410.0,482.8 L412.7,482.1 L415.4,473.1 L418.1,476.4 L420.8,474.8 L423.5,474.2 L426.2,468.5 L428.9,469.8 L431.6,472.0 L434.3,462.1 L437.0,463.5 L439.7,463.5 L442.4,459.0 L445.1,456.6 L447.8,452.2 L450.5,449.5 L453.2,454.7 L455.9,446.6 L458.6,455.2 L461.3,450.0 L464.0,446.9 L466.7,443.3 L469.4,442.2 L472.1,439.2 L474.8,441.0 L477.5,437.8 L480.2,436.6 L482.9,433.2 L485.6,435.4 L488.3,435.1 L491.0,427.2 L493.7,428.6 L496.4,430.6 L499.1,429.3 L501.8,425.2 L504.5,428.6 L507.2,422.7 L509.9,422.8 L512.6,419.5 L515.3,410.3 L518.0,406.5 L520.7,408.7 L523.4,405.7 L526.1,405.7 L528.8,409.4 L531.5,408.6 L534.2,404.5 L536.9,405.6 L539.6,408.2 L542.3,405.6 L545.0,408.8 L547.7,410.0 L550.4,413.0 L553.1,408.8 L555.8,405.6 L558.5,410.1 L561.2,406.9 L563.9,407.7 L566.6,407.1 L569.3,408.9 L572.0,408.6 L574.7,411.0 L577.4,405.6 L580.1,403.5 L582.8,408.7 L585.5,406.2 L588.2,405.7 L590.9,406.1 L593.6,409.3 L596.3,408.7 L599.0,409.9 L601.7,410.0 L604.4,410.7 L607.1,411.3 L609.8,414.1 L612.5,415.4 L615.2,409.3 L617.9,411.2 L620.6,414.0 L623.3,406.5 L626.0,413.0 L628.7,414.0 L631.4,409.0 L634.1,411.7 L636.8,411.4 L639.5,411.4 L642.2,411.8 L644.9,409.0 L647.6,415.1 L650.3,415.3 L653.0,414.6 L655.7,412.4 L658.4,408.8 L661.1,412.3 L663.8,403.8 L666.5,412.9 L669.2,411.7 L671.9,412.6 L674.6,411.2 L677.3,412.8 L680.0,409.6 L682.7,412.3 L685.4,415.5 L688.1,407.1 L690.8,412.0 L693.5,409.8 L696.2,408.3 L698.9,411.6 L701.6,416.0 L704.3,409.4 L707.0,413.6 L709.7,411.7 L712.4,411.1 L715.1,409.8 L717.8,414.0 L720.5,414.0 L723.2,413.2 L725.9,412.8 L728.6,411.9 L731.3,410.2 L734.0,410.6 L736.7,409.7 L739.4,414.0 L742.1,413.1 L744.8,413.2 L747.5,413.4 L750.2,408.3 L752.9,410.3 L755.6,404.7 L758.3,411.8 L761.0,411.0 L763.7,412.1 L766.4,412.0 L769.1,411.2 L771.8,410.0 L774.5,414.2 L777.2,414.3 L779.9,412.7 L782.6,411.4 L785.3,414.1 L788.0,410.3 L790.7,414.4 L793.4,409.2 L796.1,411.3 L798.8,415.0 L801.5,414.0 L804.2,408.2 L806.9,413.0 L809.6,410.7 L812.3,417.3 L815.0,409.5 L817.7,413.8 L820.4,420.2 L823.1,413.1 L825.8,410.1 L828.5,411.8 L831.2,414.0 L833.9,411.5 L836.6,410.6 L839.3,411.7 L842.0,411.6 L844.7,409.1 L847.4,410.9 L850.1,414.3 L852.8,412.5 L855.5,409.1 L858.2,410.7 L860.9,412.6 L863.6,414.2 L866.3,415.2 L869.0,413.6 L871.7,412.4 L874.4,413.2 L877.1,413.1 L879.8,413.0 L882.5,412.8 L885.2,410.8 L887.9,413.7 L890.6,416.6 L893.3,407.2 L896.0,416.7 L898.7,413.4 L901.4,411.6 L904.1,414.2 L906.8,409.2 L909.5,413.4 L912.2,412.2 L914.9,412.7 L917.6,410.2 L920.3,410.0 L923.0,412.9 L925.7,410.6 L928.4,413.3 L931.1,411.5 L933.8,414.9 L936.5,411.1 L939.2,412.4 L941.9,410.4 L944.6,412.4 L947.3,416.9 L950.0,411.9 L952.7,412.8 L955.4,412.7 L958.1,410.1 L960.8,414.7 L962.1,410.8"/>
<path stroke="#10B814" d="M180.5,674.2 L183.2,674.4 L185.9,672.2 L188.6,670.0 L191.3,670.3 L194.0,667.4 L196.7,667.9 L199.4,664.5 L202.1,659.7 L204.8,659.5 L207.5,658.4 L210.2,656.4 L212.9,650.2 L215.6,653.2 L218.3,654.9 L221.0,648.5 L223.7,645.6 L226.4,648.1 L229.1,649.4 L231.8,643.0 L234.5,645.8 L237.2,644.6 L239.9,639.5 L242.6,638.5 L245.3,639.5 L248.0,637.2 L250.7,637.7 L253.4,634.8 L256.1,634.3 L258.8,629.6 L261.5,630.5 L264.2,631.0 L266.9,632.8 L269.6,623.7 L272.3,627.4 L275.0,626.1 L277.7,625.1 L280.4,623.1 L283.1,623.6 L285.8,619.6 L288.5,621.2 L291.2,620.9 L293.9,618.0 L296.6,614.8 L299.3,612.7 L302.0,618.7 L304.7,612.6 L307.4,610.8 L310.1,611.0 L312.8,605.3 L315.5,615.3 L318.2,606.2 L320.9,604.4 L323.6,607.2 L326.3,606.5 L329.0,601.0 L331.7,598.8 L334.4,596.7 L337.1,598.1 L339.8,596.7 L342.5,589.3 L345.2,596.2 L347.9,590.6 L350.6,589.6 L353.3,587.1 L356.0,589.0 L358.7,587.6 L361.4,586.8 L364.1,585.6 L366.8,580.4 L369.5,584.7 L372.2,583.1 L374.9,580.6 L377.6,581.5 L380.3,576.5 L383.0,574.6 L385.7,575.8 L388.4,570.1 L391.1,573.3 L393.8,572.3 L396.5,570.6 L399.2,569.8 L401.9,570.4 L404.6,566.5 L407.3,567.6 L410.0,565.2 L412.7,559.3 L415.4,563.2 L418.1,562.0 L420.8,560.6 L423.5,561.8 L426.2,561.0 L428.9,558.2 L431.6,555.0 L434.3,555.1 L437.0,556.5 L439.7,558.1 L442.4,551.7 L445.1,551.4 L447.8,552.8 L450.5,552.1 L453.2,549.0 L455.9,550.3 L458.6,550.2 L461.3,551.1 L464.0,546.6 L466.7,541.6 L469.4,544.2 L472.1,542.1 L474.8,539.4 L477.5,540.1 L480.2,536.7 L482.9,534.6 L485.6,540.5 L488.3,536.3 L491.0,534.6 L493.7,530.2 L496.4,535.0 L499.1,530.1 L501.8,533.1 L504.5,527.6 L507.2,527.0 L509.9,524.8 L512.6,516.3 L515.3,521.6 L518.0,517.5 L520.7,517.2 L523.4,516.2 L526.1,517.6 L528.8,512.9 L531.5,514.2 L534.2,520.7 L536.9,517.6 L539.6,520.1 L542.3,515.6 L545.0,522.3 L547.7,520.4 L550.4,519.5 L553.1,520.0 L555.8,518.2 L558.5,520.9 L561.2,522.2 L563.9,521.2 L566.6,522.0 L569.3,517.9 L572.0,518.3 L574.7,524.0 L577.4,520.1 L580.1,521.3 L582.8,522.0 L585.5,518.0 L588.2,521.4 L590.9,523.1 L593.6,521.5 L596.3,523.8 L599.0,519.8 L601.7,523.3 L604.4,520.3 L607.1,519.2 L609.8,522.0 L612.5,520.8 L615.2,521.6 L617.9,522.3 L620.6,520.4 L623.3,524.0 L626.0,521.4 L628.7,518.4 L631.4,524.3 L634.1,519.5 L636.8,520.7 L639.5,519.2 L642.2,516.7 L644.9,515.5 L647.6,518.2 L650.3,520.4 L653.0,518.9 L655.7,519.2 L658.4,521.0 L661.1,518.3 L663.8,516.9 L666.5,519.6 L669.2,522.8 L671.9,522.6 L674.6,522.2 L677.3,516.3 L680.0,526.5 L682.7,523.9 L685.4,521.4 L688.1,524.5 L690.8,521.8 L693.5,524.8 L696.2,520.0 L698.9,524.0 L701.6,521.7 L704.3,520.4 L707.0,523.4 L709.7,520.7 L712.4,519.8 L715.1,528.4 L717.8,520.7 L720.5,521.9 L723.2,519.9 L725.9,527.1 L728.6,528.9 L731.3,524.0 L734.0,524.2 L736.7,525.2 L739.4,519.5 L742.1,521.8 L744.8,517.0 L747.5,526.3 L750.2,525.4 L752.9,521.0 L755.6,523.5 L758.3,517.2 L761.0,525.9 L763.7,526.4 L766.4,525.3 L769.1,527.2 L771.8,521.5 L774.5,525.3 L777.2,526.6 L779.9,523.4 L782.6,520.0 L785.3,523.2 L788.0,523.6 L790.7,523.6 L793.4,525.4 L796.1,524.0 L798.8,524.2 L801.5,524.4 L804.2,522.7 L806.9,518.5 L809.6,519.3 L812.3,519.8 L815.0,521.3 L817.7,519.1 L820.4,519.2 L823.1,522.3 L825.8,522.2 L828.5,524.3 L831.2,519.1 L833.9,525.4 L836.6,520.1 L839.3,517.4 L842.0,523.8 L844.7,525.1 L847.4,519.2 L850.1,526.4 L852.8,518.8 L855.5,520.5 L858.2,525.4 L860.9,519.4 L863.6,522.0 L866.3,526.9 L869.0,522.2 L871.7,523.2 L874.4,517.3 L877.1,523.4 L879.8,520.2 L882.5,521.7 L885.2,523.6 L887.9,526.1 L890.6,524.2 L893.3,520.4 L896.0,522.0 L898.7,518.6 L901.4,521.5 L904.1,526.0 L906.8,525.2 L909.5,524.6 L912.2,525.6 L914.9,522.0 L917.6,523.1 L920.3,524.2 L923.0,521.8 L925.7,523.7 L928.4,525.9 L931.1,525.6 L933.8,524.5 L936.5,522.3 L939.2,524.7 L941.9,528.2 L944.6,521.9 L947.3,523.8 L950.0,524.8 L952.7,524.9 L955.4,522.6 L958.1,520.2 L960.8,524.0 L962.1,525.6"/>
<path stroke="#1A94AE" d="M180.5,672.3 L183.2,674.3 L185.9,672.8 L188.6,673.8 L191.3,668.2 L194.0,672.4 L196.7,672.2 L199.4,666.8 L202.1,669.0 L204.8,666.6 L207.5,667.7 L210.2,664.0 L212.9,658.8 L215.6,659.0 L218.3,662.0 L221.0,659.2 L223.7,656.3 L226.4,657.2 L229.1,662.9 L231.8,659.0 L234.5,658.1 L237.2,655.4 L239.9,657.4 L242.6,650.7 L245.3,656.2 L248.0,655.9 L250.7,653.8 L253.4,657.0 L256.1,658.7 L258.8,653.5 L261.5,656.7 L264.2,653.1 L266.9,652.6 L269.6,648.1 L272.3,649.2 L275.0,647.1 L277.7,646.6 L280.4,649.7 L283.1,645.6 L285.8,647.1 L288.5,643.0 L291.2,643.1 L293.9,645.8 L296.6,638.9 L299.3,637.2 L302.0,644.1 L304.7,640.4 L307.4,638.0 L310.1,636.8 L312.8,636.3 L315.5,633.9 L318.2,634.9 L320.9,629.2 L323.6,633.3 L326.3,635.9 L329.0,638.3 L331.7,629.8 L334.4,633.6 L337.1,626.7 L339.8,631.9 L342.5,634.0 L345.2,628.8 L347.9,624.0 L350.6,629.2 L353.3,626.9 L356.0,626.9 L358.7,626.6 L361.4,622.7 L364.1,625.5 L366.8,622.1 L369.5,629.0 L372.2,622.6 L374.9,623.2 L377.6,622.6 L380.3,621.1 L383.0,622.7 L385.7,618.1 L388.4,618.4 L391.1,616.0 L393.8,618.4 L396.5,613.8 L399.2,613.4 L401.9,615.9 L404.6,613.9 L407.3,613.6 L410.0,615.1 L412.7,612.0 L415.4,606.5 L418.1,610.1 L420.8,613.3 L423.5,608.7 L426.2,613.9 L428.9,607.5 L431.6,608.5 L434.3,607.7 L437.0,604.5 L439.7,599.7 L442.4,608.6 L445.1,600.6 L447.8,601.6 L450.5,603.0 L453.2,602.3 L455.9,598.9 L458.6,600.5 L461.3,598.8 L464.0,598.9 L466.7,597.7 L469.4,600.7 L472.1,594.8 L474.8,595.1 L477.5,592.7 L480.2,591.6 L482.9,593.4 L485.6,594.4 L488.3,593.8 L491.0,596.3 L493.7,590.9 L496.4,593.4 L499.1,592.3 L501.8,595.5 L504.5,593.9 L507.2,587.6 L509.9,588.9 L512.6,587.1 L515.3,586.9 L518.0,585.9 L520.7,587.0 L523.4,586.6 L526.1,584.7 L528.8,584.8 L531.5,581.5 L534.2,583.9 L536.9,592.0 L539.6,585.2 L542.3,583.7 L545.0,585.6 L547.7,586.9 L550.4,587.2 L553.1,587.3 L555.8,589.9 L558.5,586.7 L561.2,589.4 L563.9,580.4 L566.6,583.0 L569.3,589.5 L572.0,583.6 L574.7,588.2 L577.4,585.6 L580.1,588.8 L582.8,589.7 L585.5,585.5 L588.2,588.9 L590.9,588.3 L593.6,588.3 L596.3,583.3 L599.0,589.3 L601.7,583.7 L604.4,587.8 L607.1,586.8 L609.8,588.0 L612.5,587.2 L615.2,587.3 L617.9,585.3 L620.6,585.4 L623.3,587.9 L626.0,590.3 L628.7,588.4 L631.4,590.3 L634.1,585.8 L636.8,583.8 L639.5,587.8 L642.2,582.5 L644.9,583.8 L647.6,581.4 L650.3,588.7 L653.0,586.6 L655.7,589.7 L658.4,590.1 L661.1,588.0 L663.8,590.8 L666.5,584.1 L669.2,582.1 L671.9,584.7 L674.6,590.8 L677.3,587.1 L680.0,583.6 L682.7,580.5 L685.4,583.7 L688.1,585.0 L690.8,589.0 L693.5,588.5 L696.2,584.4 L698.9,588.7 L701.6,593.3 L704.3,593.0 L707.0,593.3 L709.7,592.8 L712.4,594.1 L715.1,588.4 L717.8,591.3 L720.5,587.1 L723.2,585.8 L725.9,588.1 L728.6,591.3 L731.3,587.4 L734.0,587.7 L736.7,589.2 L739.4,585.8 L742.1,588.3 L744.8,589.6 L747.5,587.2 L750.2,585.5 L752.9,588.7 L755.6,589.4 L758.3,583.7 L761.0,582.9 L763.7,583.3 L766.4,584.3 L769.1,586.8 L771.8,586.8 L774.5,584.6 L777.2,584.0 L779.9,587.9 L782.6,583.9 L785.3,587.2 L788.0,584.9 L790.7,586.3 L793.4,587.6 L796.1,580.6 L798.8,581.9 L801.5,587.7 L804.2,592.9 L806.9,588.7 L809.6,595.2 L812.3,585.6 L815.0,590.5 L817.7,588.3 L820.4,591.0 L823.1,584.7 L825.8,586.5 L828.5,588.7 L831.2,591.8 L833.9,588.6 L836.6,590.8 L839.3,587.9 L842.0,583.6 L844.7,582.3 L847.4,586.8 L850.1,587.3 L852.8,589.3 L855.5,588.1 L858.2,586.4 L860.9,592.7 L863.6,584.6 L866.3,585.0 L869.0,588.6 L871.7,588.4 L874.4,587.3 L877.1,586.0 L879.8,591.4 L882.5,587.1 L885.2,586.6 L887.9,587.0 L890.6,585.5 L893.3,580.7 L896.0,586.3 L898.7,587.3 L901.4,584.1 L904.1,587.6 L906.8,588.3 L909.5,588.1 L912.2,590.7 L914.9,584.8 L917.6,586.4 L920.3,590.2 L923.0,591.5 L925.7,589.1 L928.4,591.8 L931.1,586.3 L933.8,588.5 L936.5,592.1 L939.2,591.6 L941.9,585.6 L944.6,593.0 L947.3,588.1 L950.0,588.2 L952.7,586.2 L955.4,590.0 L958.1,588.7 L960.8,587.2 L962.1,587.5"/>
<path stroke="#0A0ADE" d="M180.5,673.7 L183.2,675.2 L185.9,677.3 L188.6,673.6 L191.3,675.1 L194.0,672.3 L196.7,677.4 L199.4,674.7 L202.1,676.1 L204.8,672.2 L207.5,671.6 L210.2,672.6 L212.9,674.9 L215.6,669.0 L218.3,676.1 L221.0,665.7 L223.7,676.6 L226.4,667.5 L229.1,670.3 L231.8,673.5 L234.5,668.5 L237.2,666.6 L239.9,662.1 L242.6,668.0 L245.3,667.0 L248.0,668.1 L250.7,661.3 L253.4,663.8 L256.1,662.9 L258.8,664.8 L261.5,660.1 L264.2,659.9 L266.9,660.2 L269.6,662.5 L272.3,661.6 L275.0,655.2 L277.7,660.0 L280.4,662.2 L283.1,663.5 L285.8,661.0 L288.5,661.8 L291.2,656.7 L293.9,661.0 L296.6,652.9 L299.3,655.6 L302.0,659.8 L304.7,661.3 L307.4,654.1 L310.1,658.9 L312.8,654.3 L315.5,652.7 L318.2,651.4 L320.9,656.8 L323.6,662.6 L326.3,654.5 L329.0,655.5 L331.7,655.2 L334.4,655.8 L337.1,653.5 L339.8,654.2 L342.5,655.4 L345.2,650.0 L347.9,654.5 L350.6,649.6 L353.3,652.3 L356.0,648.1 L358.7,647.0 L361.4,648.3 L364.1,647.3 L366.8,646.4 L369.5,646.9 L372.2,650.2 L374.9,652.4 L377.6,647.2 L380.3,647.2 L383.0,652.4 L385.7,645.6 L388.4,646.5 L391.1,645.2 L393.8,645.2 L396.5,640.4 L399.2,643.6 L401.9,645.5 L404.6,640.2 L407.3,638.1 L410.0,639.4 L412.7,641.8 L415.4,635.8 L418.1,634.9 L420.8,637.8 L423.5,641.8 L426.2,636.7 L428.9,638.1 L431.6,641.9 L434.3,637.2 L437.0,635.4 L439.7,636.4 L442.4,632.2 L445.1,633.9 L447.8,637.2 L450.5,637.4 L453.2,634.8 L455.9,635.2 L458.6,635.6 L461.3,630.3 L464.0,633.2 L466.7,628.8 L469.4,634.5 L472.1,629.9 L474.8,627.7 L477.5,632.8 L480.2,629.1 L482.9,629.3 L485.6,627.6 L488.3,629.3 L491.0,628.7 L493.7,626.0 L496.4,625.8 L499.1,627.9 L501.8,627.3 L504.5,627.7 L507.2,625.1 L509.9,630.0 L512.6,624.6 L515.3,621.2 L518.0,618.1 L520.7,616.7 L523.4,615.4 L526.1,624.3 L528.8,620.2 L531.5,617.4 L534.2,615.8 L536.9,623.9 L539.6,619.2 L542.3,616.1 L545.0,617.1 L547.7,620.7 L550.4,617.0 L553.1,611.0 L555.8,612.6 L558.5,620.2 L561.2,618.1 L563.9,619.4 L566.6,618.3 L569.3,620.1 L572.0,620.3 L574.7,617.3 L577.4,619.0 L580.1,615.0 L582.8,615.8 L585.5,617.4 L588.2,619.3 L590.9,621.0 L593.6,620.1 L596.3,616.2 L599.0,613.7 L601.7,618.1 L604.4,614.5 L607.1,619.5 L609.8,620.3 L612.5,617.1 L615.2,622.8 L617.9,620.9 L620.6,617.9 L623.3,618.6 L626.0,622.3 L628.7,624.2 L631.4,617.4 L634.1,618.6 L636.8,620.8 L639.5,618.6 L642.2,621.1 L644.9,619.8 L647.6,621.7 L650.3,618.3 L653.0,621.2 L655.7,623.6 L658.4,625.5 L661.1,620.1 L663.8,613.9 L666.5,617.5 L669.2,622.4 L671.9,619.0 L674.6,619.2 L677.3,622.5 L680.0,624.5 L682.7,622.9 L685.4,622.6 L688.1,618.1 L690.8,623.7 L693.5,621.3 L696.2,620.9 L698.9,619.8 L701.6,625.5 L704.3,620.7 L707.0,614.9 L709.7,624.3 L712.4,621.3 L715.1,622.9 L717.8,619.1 L720.5,620.3 L723.2,620.1 L725.9,616.1 L728.6,619.9 L731.3,623.1 L734.0,620.8 L736.7,624.2 L739.4,620.4 L742.1,624.4 L744.8,617.1 L747.5,616.7 L750.2,618.9 L752.9,622.3 L755.6,617.8 L758.3,620.6 L761.0,617.1 L763.7,619.9 L766.4,623.9 L769.1,622.6 L771.8,619.3 L774.5,621.5 L777.2,617.3 L779.9,623.6 L782.6,622.0 L785.3,621.7 L788.0,623.4 L790.7,624.5 L793.4,618.0 L796.1,619.2 L798.8,626.6 L801.5,621.9 L804.2,623.4 L806.9,625.9 L809.6,619.9 L812.3,618.7 L815.0,617.2 L817.7,620.7 L820.4,621.1 L823.1,625.4 L825.8,620.9 L828.5,622.3 L831.2,621.2 L833.9,619.0 L836.6,621.1 L839.3,620.6 L842.0,621.5 L844.7,616.9 L847.4,620.1 L850.1,623.0 L852.8,626.7 L855.5,624.3 L858.2,624.2 L860.9,621.4 L863.6,619.3 L866.3,614.3 L869.0,619.5 L871.7,612.3 L874.4,619.8 L877.1,621.0 L879.8,622.4 L882.5,621.6 L885.2,620.1 L887.9,617.1 L890.6,621.5 L893.3,616.5 L896.0,620.1 L898.7,618.8 L901.4,617.2 L904.1,613.6 L906.8,619.4 L909.5,621.5 L912.2,617.7 L914.9,619.9 L917.6,626.6 L920.3,617.2 L923.0,615.1 L925.7,620.1 L928.4,618.2 L931.1,620.6 L933.8,616.7 L936.5,620.0 L939.2,618.7 L941.9,618.1 L944.6,618.9 L947.3,622.7 L950.0,622.5 L952.7,615.2 L955.4,623.3 L958.1,622.0 L960.8,619.3 L962.1,620.8"/>
<path stroke="#FFF61E" d="M180.5,672.5 L183.2,672.6 L185.9,673.0 L188.6,671.2 L191.3,674.3 L194.0,672.4 L196.7,674.0 L199.4,667.1 L202.1,676.9 L204.8,673.8 L207.5,680.3 L210.2,672.6 L212.9,677.4 L215.6,675.8 L218.3,671.4 L221.0,674.4 L223.7,677.1 L226.4,676.8 L229.1,673.9 L231.8,675.6 L234.5,676.6 L237.2,676.3 L239.9,673.2 L242.6,673.0 L245.3,678.3 L248.0,671.4 L250.7,671.9 L253.4,672.8 L256.1,672.8 L258.8,669.4 L261.5,669.8 L264.2,668.8 L266.9,667.5 L269.6,667.0 L272.3,670.9 L275.0,669.1 L277.7,669.0 L280.4,668.4 L283.1,665.0 L285.8,669.1 L288.5,666.5 L291.2,668.9 L293.9,667.4 L296.6,661.0 L299.3,663.6 L302.0,667.7 L304.7,660.3 L307.4,665.3 L310.1,658.8 L312.8,661.0 L315.5,657.1 L318.2,663.5 L320.9,660.2 L323.6,665.8 L326.3,661.7 L329.0,666.7 L331.7,655.7 L334.4,660.7 L337.1,663.9 L339.8,666.2 L342.5,660.6 L345.2,658.6 L347.9,660.3 L350.6,663.5 L353.3,661.0 L356.0,657.6 L358.7,657.0 L361.4,659.5 L364.1,657.8 L366.8,657.8 L369.5,660.0 L372.2,659.7 L374.9,657.4 L377.6,660.1 L380.3,658.8 L383.0,662.6 L385.7,656.0 L388.4,655.1 L391.1,662.7 L393.8,654.2 L396.5,657.0 L399.2,658.1 L401.9,653.4 L404.6,653.4 L407.3,654.3 L410.0,658.0 L412.7,652.8 L415.4,655.6 L418.1,653.0 L420.8,657.7 L423.5,652.8 L426.2,654.7 L428.9,646.8 L431.6,651.0 L434.3,649.8 L437.0,645.6 L439.7,648.0 L442.4,655.3 L445.1,649.9 L447.8,649.3 L450.5,648.6 L453.2,645.6 L455.9,650.5 L458.6,651.3 L461.3,646.5 L464.0,643.9 L466.7,646.8 L469.4,645.9 L472.1,646.3 L474.8,648.1 L477.5,644.5 L480.2,645.7 L482.9,643.2 L485.6,647.9 L488.3,645.2 L491.0,646.8 L493.7,647.2 L496.4,641.2 L499.1,647.5 L501.8,642.4 L504.5,638.6 L507.2,646.5 L509.9,649.0 L512.6,642.8 L515.3,646.0 L518.0,639.5 L520.7,641.1 L523.4,644.8 L526.1,645.6 L528.8,644.7 L531.5,645.6 L534.2,640.5 L536.9,642.0 L539.6,640.1 L542.3,642.4 L545.0,643.3 L547.7,644.6 L550.4,646.9 L553.1,645.8 L555.8,639.2 L558.5,644.4 L561.2,639.8 L563.9,642.6 L566.6,643.1 L569.3,646.0 L572.0,639.6 L574.7,645.9 L577.4,641.3 L580.1,641.4 L582.8,646.1 L585.5,643.9 L588.2,643.7 L590.9,647.0 L593.6,640.6 L596.3,642.6 L599.0,646.1 L601.7,638.9 L604.4,638.7 L607.1,646.8 L609.8,645.2 L612.5,645.0 L615.2,644.4 L617.9,640.1 L620.6,649.5 L623.3,641.9 L626.0,640.2 L628.7,641.1 L631.4,645.8 L634.1,641.9 L636.8,643.1 L639.5,646.4 L642.2,642.2 L644.9,640.8 L647.6,642.0 L650.3,648.5 L653.0,641.2 L655.7,643.6 L658.4,642.1 L661.1,643.3 L663.8,645.4 L666.5,642.2 L669.2,639.0 L671.9,647.6 L674.6,646.8 L677.3,640.0 L680.0,648.6 L682.7,647.0 L685.4,642.7 L688.1,642.9 L690.8,642.2 L693.5,643.3 L696.2,644.6 L698.9,641.5 L701.6,640.3 L704.3,642.6 L707.0,647.8 L709.7,641.8 L712.4,639.7 L715.1,642.9 L717.8,644.1 L720.5,642.9 L723.2,648.2 L725.9,647.2 L728.6,647.1 L731.3,640.7 L734.0,644.6 L736.7,643.9 L739.4,643.4 L742.1,639.0 L744.8,642.5 L747.5,644.8 L750.2,645.6 L752.9,644.2 L755.6,645.7 L758.3,646.7 L761.0,642.2 L763.7,643.3 L766.4,643.6 L769.1,643.7 L771.8,642.2 L774.5,647.3 L777.2,645.0 L779.9,641.0 L782.6,645.2 L785.3,639.1 L788.0,643.2 L790.7,646.7 L793.4,639.9 L796.1,639.6 L798.8,643.3 L801.5,640.3 L804.2,641.4 L806.9,645.3 L809.6,643.1 L812.3,644.3 L815.0,638.5 L817.7,639.7 L820.4,648.2 L823.1,641.8 L825.8,645.0 L828.5,641.7 L831.2,641.7 L833.9,639.6 L836.6,643.1 L839.3,641.5 L842.0,644.1 L844.7,645.9 L847.4,643.1 L850.1,647.4 L852.8,641.0 L855.5,647.6 L858.2,644.7 L860.9,645.8 L863.6,646.2 L866.3,641.1 L869.0,645.4 L871.7,647.0 L874.4,642.0 L877.1,650.8 L879.8,640.7 L882.5,647.4 L885.2,642.8 L887.9,645.0 L890.6,642.0 L893.3,641.8 L896.0,636.7 L898.7,645.0 L901.4,641.6 L904.1,640.8 L906.8,643.4 L909.5,641.7 L912.2,638.6 L914.9,644.6 L917.6,640.6 L920.3,641.4 L923.0,641.2 L925.7,642.3 L928.4,639.5 L931.1,644.5 L933.8,640.5 L936.5,644.0 L939.2,642.0 L941.9,640.8 L944.6,642.2 L947.3,641.9 L950.0,638.9 L952.7,638.7 L955.4,640.1 L958.1,642.1 L960.8,644.8 L962.1,645.0"/>
</g>
</g>
<text class="tick" text-anchor="end" transform="translate(144.3 683.3) scale(1 1.04)">0.0</text>
<text class="tick" text-anchor="end" transform="translate(144.3 533.3) scale(1 1.04)">0.2</text>
<text class="tick" text-anchor="end" transform="translate(144.3 383.3) scale(1 1.04)">0.4</text>
<text class="tick" text-anchor="end" transform="translate(144.3 233.3) scale(1 1.04)">0.6</text>
<text class="tick" text-anchor="end" transform="translate(144.3 83.3) scale(1 1.04)">0.8</text>
<text class="tick" text-anchor="middle" transform="translate(176.1 734.5) scale(1 1.04)">0</text>
<text class="tick" text-anchor="middle" transform="translate(401.1 734.5) scale(1 1.04)">100</text>
<text class="tick" text-anchor="middle" transform="translate(626.1 734.5) scale(1 1.04)">200</text>
<text class="tick" text-anchor="middle" transform="translate(851.1 734.5) scale(1 1.04)">300</text>
<text class="tick" text-anchor="middle" transform="translate(1076.1 734.5) scale(1 1.04)">400</text>
<text class="ttl" text-anchor="middle" transform="translate(72.8 375.8) rotate(-90) scale(1 1.04)">Response (nm)</text>
<text class="ttl" transform="translate(0 774) scale(1 1.02)"><tspan x="545.4 567.6 577.9 611.4">Time</tspan><tspan class="cjk" x="617.6">（</tspan><tspan x="659.8">s</tspan><tspan class="cjk" x="682.9">）</tspan></text>
<text class="ann" transform="translate(0 100) scale(1 1.04)"><tspan x="188.2">K</tspan><tspan class="sb" x="208.0" dy="5.6">D</tspan><tspan x="222.9" dy="-5.6">=4.98×10</tspan><tspan class="sp" x="346.3" dy="-11.6">-9</tspan></text>
<text class="ann" transform="translate(0 142) scale(1 1.04)"><tspan x="188.2">K</tspan><tspan class="sb" x="208.7" dy="5.6">off</tspan><tspan x="232.5" dy="-5.6">=1.04×10</tspan><tspan class="sp" x="355.2" dy="-11.6">-4</tspan></text>
<text class="ann" transform="translate(0 184.4) scale(1 1.04)"><tspan x="188.2">K</tspan><tspan class="sb" x="208.5" dy="5.6">on</tspan><tspan x="231.7" dy="-5.6">=2.09×10</tspan><tspan class="sp" x="354.2" dy="-11.6">4</tspan></text>
<line x1="987" y1="71.3" x2="1051.2" y2="71.3" stroke="#E83C4A" stroke-width="3.2"/>
<text class="lg" transform="translate(1086.5 79.7) scale(1 1.04)">800 nM</text>
<line x1="985.8" y1="121.0" x2="1050" y2="121.0" stroke="#F57C0C" stroke-width="3.2"/>
<text class="lg" transform="translate(1085.6 128.7) scale(1 1.04)">400 nM</text>
<line x1="985" y1="170.6" x2="1049" y2="170.6" stroke="#9C0ED4" stroke-width="3.2"/>
<text class="lg" transform="translate(1085.2 178.4) scale(1 1.04)">200 nM</text>
<line x1="985" y1="222.6" x2="1049" y2="222.6" stroke="#10B814" stroke-width="3.2"/>
<text class="lg" transform="translate(1085.3 230.6) scale(1 1.04)">100 nM</text>
<line x1="985" y1="275.4" x2="1049" y2="275.4" stroke="#1A94AE" stroke-width="3.2"/>
<text class="lg" transform="translate(1085.3 283.3) scale(1 1.04)">50 nM</text>
<line x1="985" y1="327.6" x2="1049" y2="327.6" stroke="#0A0ADE" stroke-width="3.2"/>
<text class="lg" transform="translate(1085.2 335.8) scale(1 1.04)">25 nM</text>
<line x1="985" y1="380.2" x2="1049" y2="380.2" stroke="#FFF61E" stroke-width="3.2"/>
<text class="lg" transform="translate(1085.5 388.3) scale(1 1.04)">12.5 nM</text>
</svg></body></html>
